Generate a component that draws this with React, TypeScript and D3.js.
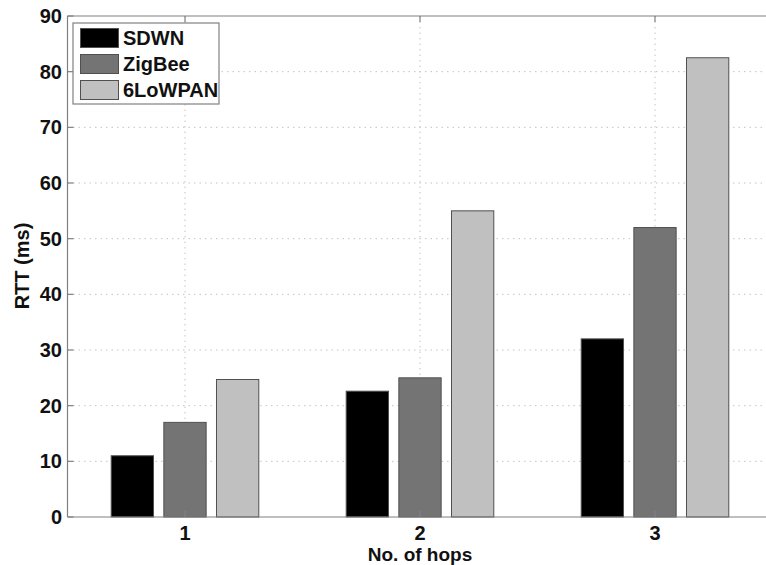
import React from "react";
import * as d3 from "d3";

const categories = ["1", "2", "3"];
const seriesNames = ["SDWN", "ZigBee", "6LoWPAN"];
const sdwn = [11, 22.6, 32];
const zigbee = [17, 25, 52];
const lowpan = [24.7, 55, 82.5];
const yTicks = [0, 10, 20, 30, 40, 50, 60, 70, 80, 90];
const colors = ["#000000", "#747474", "#c0c0c0"];

export default function App() {
  const W = 766, H = 565;
  const series = [sdwn, zigbee, lowpan];
  // x domain 0.5..3.5 in MATLAB style
  const x = d3.scaleLinear().domain([0.5, 3.5]).range([67.5, 772.5]);
  const y = d3.scaleLinear().domain([0, 90]).range([517, 16]);
  const groupStep = 0.224;
  const barW = 0.18;
  const font = "'Liberation Sans', Arial, Helvetica, sans-serif";
  const axisColor = "#808080";
  return (
    <svg width={W} height={H} style={{ position: "absolute", left: 0, top: 0, background: "#fff" }}>
      <rect x={0} y={0} width={W} height={H} fill="#fff" />
      {yTicks.slice(1, -1).map((t) => (
        <line key={"gy" + t} x1={x(0.5)} x2={W} y1={y(t)} y2={y(t)} stroke="#c4c4c4" strokeDasharray="1.5,4" strokeWidth={1} />
      ))}
      {categories.map((c, i) => (
        <line key={"gx" + c} x1={x(i + 1)} x2={x(i + 1)} y1={y(90)} y2={y(0)} stroke="#c4c4c4" strokeDasharray="1.5,4" strokeWidth={1} />
      ))}
      {series.map((vals, s) =>
        vals.map((v, i) => {
          const cx = i + 1 + (s - 1) * groupStep;
          const x0 = x(cx - barW / 2);
          const x1 = x(cx + barW / 2);
          return (
            <rect key={s + "-" + i} x={x0} y={y(v)} width={x1 - x0} height={y(0) - y(v)} fill={colors[s]} stroke="#505050" strokeWidth={1} />
          );
        })
      )}
      <line x1={x(0.5)} x2={W} y1={y(0)} y2={y(0)} stroke={axisColor} strokeWidth={1.2} />
      <line x1={x(0.5)} x2={W} y1={y(90)} y2={y(90)} stroke={axisColor} strokeWidth={1.2} />
      <line x1={x(0.5)} x2={x(0.5)} y1={y(90)} y2={y(0)} stroke={axisColor} strokeWidth={1.2} />
      {yTicks.map((t) => (
        <g key={"yt" + t}>
          <line x1={x(0.5)} x2={x(0.5) + 6} y1={y(t)} y2={y(t)} stroke={axisColor} strokeWidth={1.2} />
          <text x={62} y={y(t)} dy="0.35em" textAnchor="end" fontFamily={font} fontWeight="bold" fontSize={20} fill="#111">{t}</text>
        </g>
      ))}
      {categories.map((c, i) => (
        <g key={"xt" + c}>
          <line x1={x(i + 1)} x2={x(i + 1)} y1={y(90)} y2={y(90) + 6} stroke={axisColor} strokeWidth={1.2} />
          <line x1={x(i + 1)} x2={x(i + 1)} y1={y(0)} y2={y(0) - 6} stroke={axisColor} strokeWidth={1.2} />
          <text x={x(i + 1)} y={540} textAnchor="middle" fontFamily={font} fontWeight="bold" fontSize={20} fill="#111">{c}</text>
        </g>
      ))}
      <text x={420} y={561} textAnchor="middle" fontFamily={font} fontWeight="bold" fontSize={19} fill="#111">No. of hops</text>
      <text transform={`translate(29,266) rotate(-90)`} textAnchor="middle" fontFamily={font} fontWeight="bold" fontSize={20} fill="#111">RTT (ms)</text>
      <rect x={73} y={23} width={146} height={81} fill="#fff" stroke={axisColor} strokeWidth={1.2} />
      {seriesNames.map((n, s) => (
        <g key={"lg" + n}>
          <rect x={80.5} y={28.5 + s * 26} width={38} height={19} fill={colors[s]} stroke="#505050" strokeWidth={1} />
          <text x={123} y={45 + s * 26} fontFamily={font} fontWeight="bold" fontSize={20} fill="#111">{n}</text>
        </g>
      ))}
    </svg>
  );
}
